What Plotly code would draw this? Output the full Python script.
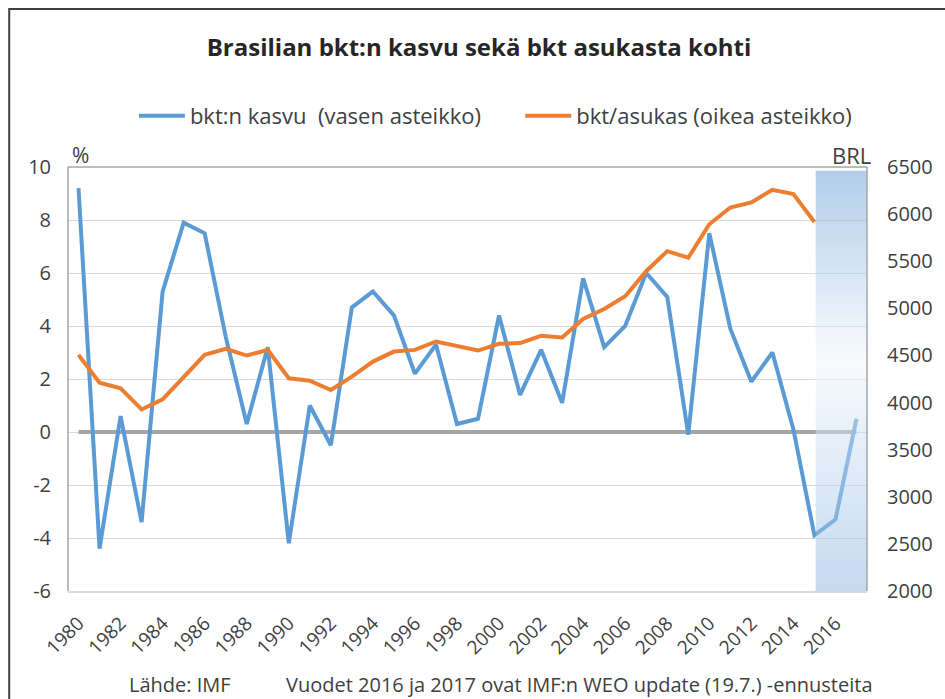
import plotly.graph_objects as go

years = list(range(1980, 2018))
gdp_growth = [9.2, -4.4, 0.6, -3.4, 5.3, 7.9, 7.5, 3.6, 0.3, 3.2,
              -4.2, 1.0, -0.5, 4.7, 5.3, 4.4, 2.2, 3.3, 0.3, 0.5,
              4.4, 1.4, 3.1, 1.1, 5.8, 3.2, 4.0, 6.0, 5.1, -0.1,
              7.5, 3.9, 1.9, 3.0, 0.1, -3.9, -3.3, 0.5]
gdp_years_pc = list(range(1980, 2016))
gdp_per_capita = [4506, 4211, 4151, 3927, 4034, 4275, 4506, 4570, 4499, 4559,
                  4258, 4232, 4133, 4275, 4435, 4541, 4559, 4648, 4602, 4552,
                  4623, 4631, 4709, 4691, 4887, 4993, 5128, 5394, 5607, 5537,
                  5892, 6070, 6124, 6258, 6212, 5917]
zero_line = [0] * len(years)
forecast_start = 2015.06
forecast_end = 2017.5
left_ticks = list(range(-6, 11, 2))
left_labels = [str(v) for v in left_ticks]
right_ticks = list(range(2000, 6501, 500))
right_labels = [str(v) for v in right_ticks]
x_ticks = list(range(1980, 2017, 2))
name_growth = "bkt:n kasvu\u00a0 (vasen asteikko)" + "\u00a0" * 6
name_pc = "bkt/asukas (oikea asteikko)"

FONT = "Open Sans"
TXT = "#404040"

fig = go.Figure()
fig.add_trace(go.Scatter(x=years, y=zero_line, mode="lines",
                         line=dict(color="#a6a6a6", width=4),
                         showlegend=False, hoverinfo="skip"))
fig.add_trace(go.Scatter(x=years, y=gdp_growth, mode="lines",
                         name=name_growth,
                         line=dict(color="#5b9bd5", width=4)))
fig.add_trace(go.Scatter(
    x=[forecast_start, forecast_end, forecast_end, forecast_start],
    y=[-6, -6, 9.86, 9.86], mode="none", fill="toself",
    fillgradient=dict(type="vertical", start=-6, stop=9.86,
                      colorscale=[[0, "rgba(139,179,225,0.5)"],
                                  [0.55, "rgba(240,246,252,0.5)"],
                                  [1, "rgba(100,156,212,0.5)"]]),
    showlegend=False, hoverinfo="skip"))
fig.add_trace(go.Scatter(x=gdp_years_pc, y=gdp_per_capita, mode="lines",
                         name=name_pc, yaxis="y2",
                         line=dict(color="#ed7d31", width=4)))

L, R, T, B = 68, 75, 167, 108
W, H = 945, 699
pw, ph = W - L - R, H - T - B

def px_x(px):
    return (px - L) / pw

def px_y(py):
    return (H - B - py) / ph

fig.update_layout(
    width=W, height=H,
    margin=dict(l=L, r=R, t=T, b=B),
    paper_bgcolor="white", plot_bgcolor="white",
    font=dict(family=FONT, color=TXT, size=19),
    title=dict(text="<b>Brasilian bkt:n kasvu sekä bkt asukasta kohti</b>",
               x=479 / W, y=1 - 48 / H, xanchor="center", yanchor="middle",
               font=dict(family=FONT, size=24, color="#262626")),
    legend=dict(orientation="h", x=px_x(497), y=px_y(116),
                xanchor="center", yanchor="middle",
                font=dict(family=FONT, size=22, color=TXT),
                itemwidth=46, tracegroupgap=0, bgcolor="rgba(0,0,0,0)"),
    xaxis=dict(range=[1979.5, 2017.5], tickmode="array", tickvals=x_ticks,
               tickangle=-45, showgrid=False, zeroline=False,
               showline=True, linecolor="#d9d9d9", linewidth=1.5,
               ticks="", ticklabelstandoff=12,
               tickfont=dict(family=FONT, size=19, color=TXT)),
    yaxis=dict(range=[-6, 10], tickmode="array", tickvals=left_ticks,
               ticktext=left_labels,
               showgrid=True, gridcolor="#d9d9d9", gridwidth=1,
               zeroline=False, showline=False, ticks="",
               ticklabelstandoff=16,
               tickfont=dict(family=FONT, size=20, color=TXT)),
    yaxis2=dict(range=[2000, 6500], tickmode="array", tickvals=right_ticks,
                ticktext=right_labels,
                overlaying="y", side="right", showgrid=False, zeroline=False,
                showline=False, ticks="", ticklabelstandoff=19,
                tickfont=dict(family=FONT, size=20, color=TXT)),
    showlegend=True,
)

shapes = [
    dict(type="line", xref="paper", yref="paper", x0=0, x1=0, y0=0, y1=1,
         line=dict(color="#a6a6a6", width=1.5)),
    dict(type="line", xref="paper", yref="paper", x0=0, x1=1, y0=1, y1=1,
         line=dict(color="#a6a6a6", width=1.5)),
    dict(type="line", xref="paper", yref="paper", x0=1, x1=1, y0=0, y1=1,
         line=dict(color="#a6a6a6", width=1.5)),
    dict(type="rect", xref="paper", yref="paper",
         x0=px_x(9), x1=px_x(960), y0=px_y(9), y1=px_y(720),
         line=dict(color="#404040", width=2)),
]
fig.update_layout(shapes=shapes)

annots = [
    dict(text="%", x=px_x(81), y=px_y(155), size=21),
    dict(text="BRL", x=px_x(854), y=px_y(155), size=22),
    dict(text="Lähde: IMF", x=px_x(180), y=px_y(684), size=20),
    dict(text="Vuodet 2016 ja 2017 ovat IMF:n WEO update (19.7.) -ennusteita",
         x=px_x(581), y=px_y(684), size=20),
]
for a in annots:
    size = a.pop("size")
    fig.add_annotation(xref="paper", yref="paper", showarrow=False,
                       xanchor="center", yanchor="middle",
                       font=dict(family=FONT, size=size, color=TXT), **a)

fig.write_html("out.html", config={"displayModeBar": False},
               post_script="document.body.style.margin='0';document.body.style.overflow='hidden';")
